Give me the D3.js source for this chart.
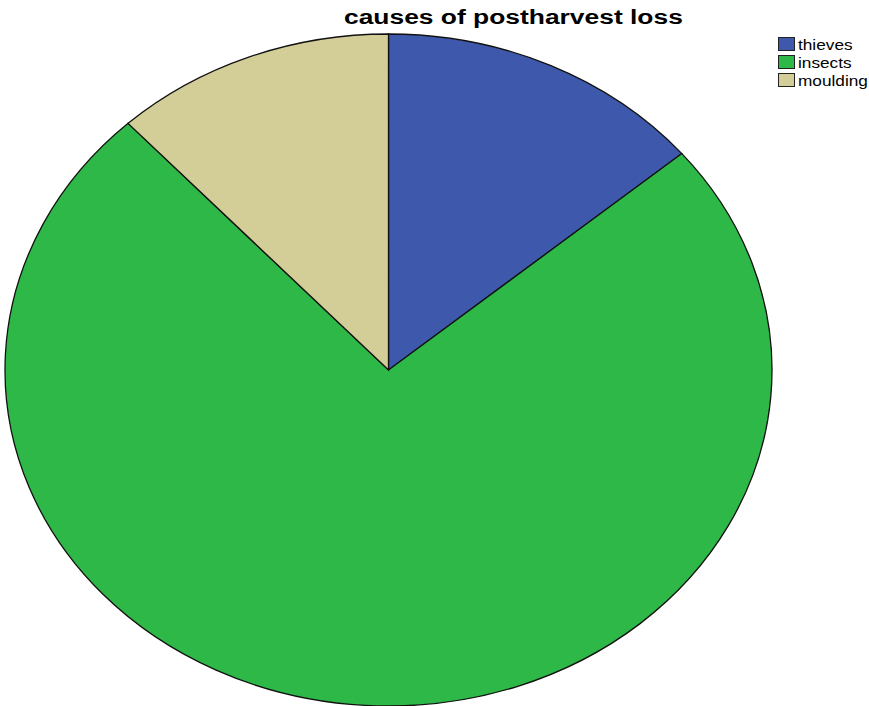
<!DOCTYPE html>
<html><head><meta charset="utf-8">
<script src="https://cdn.jsdelivr.net/npm/d3@7"></script>
<style>html,body{margin:0;padding:0;background:#fff;}svg{display:block;}</style>
</head><body>
<svg id="c" width="869" height="706"></svg>
<script>
const categories = ["thieves", "insects", "moulding"];
const values = [14, 75, 12];
const colors = ["#3E58AC", "#2EB848", "#D3CE97"];
const title = "causes of postharvest loss";

const svg = d3.select("#c");
const cx = 388.5, cy = 370, rx = 383.5, ry = 336;
const FONT = "Liberation Sans, Arial, sans-serif";

// title, stretched horizontally to match the original rendering
const tg = svg.append("g");
const tt = tg.append("text").attr("x", 0).attr("y", 0)
  .style("font-family", FONT).style("font-weight", "bold")
  .style("font-size", "20.5px").attr("fill", "#000").text(title);
const tw = tt.node().getComputedTextLength();
const tsx = 339 / tw;
tg.attr("transform", `translate(344,23.5) scale(${tsx},1)`);

const data = categories.map((c, i) => ({cat: c, v: values[i], color: colors[i]}));
const pie = d3.pie().sort(null).value(d => d.v);
const arc = d3.arc().innerRadius(0).outerRadius(ry);
const g = svg.append("g").attr("transform", `translate(${cx},${cy}) scale(${rx / ry},1)`);
g.selectAll("path").data(pie(data)).join("path")
  .attr("d", arc).attr("fill", d => d.data.color)
  .attr("stroke", "#111").attr("stroke-width", 1.3)
  .attr("vector-effect", "non-scaling-stroke");

const lg = svg.append("g").attr("transform", "translate(778,37)");
const items = lg.selectAll("g").data(data).join("g").attr("transform", (d, i) => `translate(0,${i * 18})`);
items.append("rect").attr("x", 0.5).attr("y", 0.5).attr("width", 16).attr("height", 13)
  .attr("fill", d => d.color).attr("stroke", "#222").attr("stroke-width", 1);
const lt = items.append("g").attr("transform", "translate(20,13)");
const ltxt = lt.append("text").attr("x", 0).attr("y", 0)
  .style("font-family", FONT).style("font-size", "14px")
  .attr("fill", "#000").text(d => d.cat);
const wMax = d3.max(ltxt.nodes(), n => n.getComputedTextLength());
const lsx = 70 / wMax;
lt.attr("transform", `translate(20,13) scale(${lsx},1)`);
</script>
</body></html>
